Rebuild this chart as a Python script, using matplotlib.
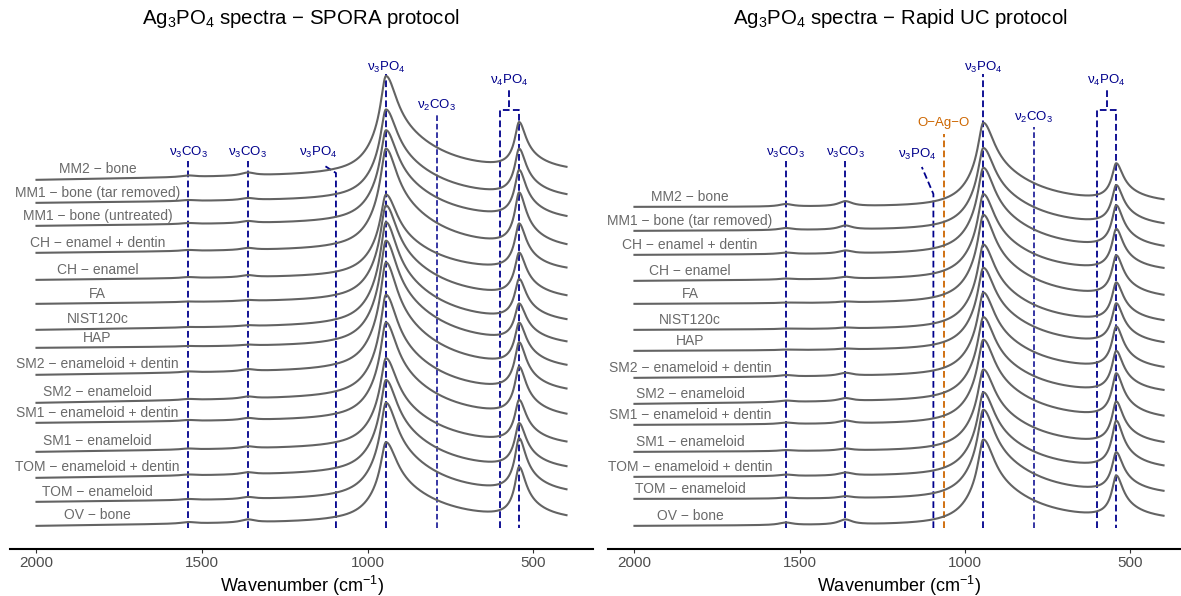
import numpy as np
import matplotlib
matplotlib.use("Agg")
import matplotlib.pyplot as plt

plt.rcParams['font.family'] = ['Liberation Sans', 'DejaVu Sans']
plt.rcParams['mathtext.fontset'] = 'custom'
plt.rcParams['mathtext.rm'] = 'Liberation Sans'
plt.rcParams['mathtext.it'] = 'Liberation Sans:italic'
plt.rcParams['mathtext.bf'] = 'Liberation Sans:bold'

# ---------------------------------------------------------------- data
# band positions (cm-1)
band_v3co3 = [1542, 1362]
band_v3po4_shoulder = 1096
band_v3po4 = 945
band_v2co3 = 792
band_v4po4 = [602, 543]
band_agO = 1065

# SPORA protocol spectra (top to bottom), normalised absorbance + offsets
spora_names = ["MM2 \u2212 bone", "MM1 \u2212 bone (tar removed)", "MM1 \u2212 bone (untreated)",
               "CH \u2212 enamel + dentin", "CH \u2212 enamel", "FA", "NIST120c", "HAP",
               "SM2 \u2212 enameloid + dentin", "SM2 \u2212 enameloid",
               "SM1 \u2212 enameloid + dentin", "SM1 \u2212 enameloid",
               "TOM \u2212 enameloid + dentin", "TOM \u2212 enameloid", "OV \u2212 bone"]
spora_base_2000 = [3.69, 3.46, 3.23, 2.96, 2.69, 2.45, 2.19, 2.01, 1.74, 1.46, 1.26, 0.97, 0.71, 0.47, 0.23]
spora_base_1100 = [3.74, 3.49, 3.26, 2.99, 2.72, 2.48, 2.23, 2.03, 1.78, 1.51, 1.29, 1.01, 0.75, 0.50, 0.27]
spora_base_400 = [3.74, 3.47, 3.25, 2.96, 2.74, 2.46, 2.22, 2.00, 1.76, 1.52, 1.27, 1.00, 0.75, 0.51, 0.26]
spora_v3 = [0.99, 0.91, 0.93, 1.02, 0.82, 0.96, 1.04, 1.06, 1.09, 1.03, 0.98, 0.90, 0.94, 0.96, 0.80]
spora_v4 = [0.53, 0.53, 0.54, 0.60, 0.52, 0.50, 0.48, 0.45, 0.50, 0.55, 0.55, 0.49, 0.51, 0.60, 0.56]
spora_co3 = [0.03, 0.02, 0.02, 0.02, 0.02, 0.01, 0.01, 0.01, 0.02, 0.02, 0.02, 0.02, 0.02, 0.02, 0.03]

# Rapid UC protocol spectra (top to bottom)
ruc_names = ["MM2 \u2212 bone", "MM1 \u2212 bone (tar removed)",
             "CH \u2212 enamel + dentin", "CH \u2212 enamel", "FA", "NIST120c", "HAP",
             "SM2 \u2212 enameloid + dentin", "SM2 \u2212 enameloid",
             "SM1 \u2212 enameloid + dentin", "SM1 \u2212 enameloid",
             "TOM \u2212 enameloid + dentin", "TOM \u2212 enameloid", "OV \u2212 bone"]
ruc_base_2000 = [3.42, 3.18, 2.94, 2.68, 2.45, 2.19, 1.98, 1.71, 1.45, 1.24, 0.97, 0.72, 0.50, 0.23]
ruc_base_1100 = [3.42, 3.19, 2.95, 2.70, 2.46, 2.20, 1.99, 1.73, 1.48, 1.25, 0.98, 0.73, 0.50, 0.24]
ruc_base_400 = [3.43, 3.19, 2.96, 2.74, 2.47, 2.22, 2.00, 1.75, 1.52, 1.26, 1.00, 0.76, 0.51, 0.26]
ruc_v3 = [0.84, 0.82, 0.86, 0.84, 0.88, 0.84, 0.82, 0.83, 0.83, 0.84, 0.81, 0.83, 0.89, 0.85]
ruc_v4 = [0.43, 0.45, 0.48, 0.47, 0.47, 0.45, 0.46, 0.48, 0.47, 0.50, 0.48, 0.53, 0.46, 0.48]
ruc_co3 = [0.05, 0.04, 0.03, 0.02, 0.01, 0.01, 0.01, 0.03, 0.03, 0.03, 0.02, 0.03, 0.02, 0.05]

# ---------------------------------------------------------------- spectra
wn = np.linspace(2000, 400, 1601)


def lorentz(w, c, g_hi, g_lo):
    g = np.where(w >= c, g_hi, g_lo)
    return 1.0 / (1.0 + ((w - c) / g) ** 2)


shape_v3 = 0.55 * lorentz(wn, band_v3po4, 18, 40) + 0.45 * lorentz(wn, band_v3po4, 58, 165)
shape_v4 = 0.7 * lorentz(wn, band_v4po4[1], 14, 24) + 0.3 * lorentz(wn, band_v4po4[1], 32, 80)
shape_co3 = 0.5 * lorentz(wn, band_v3co3[0], 25, 25) + lorentz(wn, band_v3co3[1], 25, 25)

i_v3 = np.argmin(np.abs(wn - band_v3po4))
i_v4 = np.argmin(np.abs(wn - band_v4po4[1]))


def spectrum(b2000, b1100, b400, h3, h4, hc):
    base = np.interp(wn, [400, 1100, 2000], [b400, b1100, b2000])
    m = np.array([[1.0, shape_v4[i_v3]], [shape_v3[i_v4], 1.0]])
    a, b = np.linalg.solve(m, [h3, h4])
    return base + a * shape_v3 + b * shape_v4 + hc * shape_co3


# ---------------------------------------------------------------- figure
W, H = 1181, 596
fig = plt.figure(figsize=(W / 100, H / 100), dpi=100)

navy = '#00008B'
orange = '#CD6600'
grey = '#636363'
dash = (0, (3.7, 1.85))
y_bottom = 0.21


def px_axes(x0, x1, ytop, ybot):
    return fig.add_axes([x0 / W, (H - ybot) / H, (x1 - x0) / W, (ybot - ytop) / H])


def vline(ax, x, ytop, color=navy, lw=1.3):
    ax.plot([x, x], [y_bottom, ytop], color=color, lw=lw, ls=dash, solid_capstyle='butt')


def band_label(ax, x, y, txt, color=navy):
    ax.text(x, y, txt, ha='center', va='center', color=color, fontsize=9.5)


def panel(ax, names, b2000, b1100, b400, h3, h4, hc, label_x, rapid):
    for i, name in enumerate(names):
        y = spectrum(b2000[i], b1100[i], b400[i], h3[i], h4[i], hc[i])
        ax.plot(wn, y, color=grey, lw=1.5, zorder=3)
        ly = np.interp(label_x, wn[::-1], y[::-1]) + 0.055
        ax.text(label_x, ly, name, ha='center', va='baseline', color='#6a6a6a', fontsize=10)

    nu3co3 = r'$\mathrm{\nu_3CO_3}$'
    nu3po4 = r'$\mathrm{\nu_3PO_4}$'
    for c in band_v3co3:
        vline(ax, c, 3.88)
        band_label(ax, c, 3.97, nu3co3)

    # shoulder of nu3 PO4 with a bent leader
    if rapid:
        lab_x, lab_y, knee = 1146, 3.95, 3.55
    else:
        lab_x, lab_y, knee = 1149, 3.97, 3.76
    band_label(ax, lab_x, lab_y, nu3po4)
    ax.plot([band_v3po4_shoulder, band_v3po4_shoulder, lab_x - 15],
            [y_bottom, knee, lab_y - 0.13], color=navy, lw=1.3, ls=dash)

    if rapid:
        vline(ax, band_agO, 4.15, color=orange)
        band_label(ax, band_agO, 4.26, 'O\u2212Ag\u2212O', color=orange)

    vline(ax, band_v3po4, 4.75)
    band_label(ax, band_v3po4, 4.82, nu3po4)

    v2y = 4.32 if rapid else 4.44
    vline(ax, band_v2co3, v2y - 0.1, lw=1.1)
    band_label(ax, band_v2co3, v2y, r'$\mathrm{\nu_2CO_3}$')

    # nu4 PO4 bracket
    ax.plot([band_v4po4[0], band_v4po4[0], band_v4po4[1], band_v4po4[1]],
            [y_bottom, 4.39, 4.39, y_bottom], color=navy, lw=1.3, ls=dash)
    mid = 0.5 * (band_v4po4[0] + band_v4po4[1])
    ax.plot([mid, mid], [4.42, 4.60], color=navy, lw=1.3, ls=dash)
    band_label(ax, mid, 4.69, r'$\mathrm{\nu_4PO_4}$')

    ax.set_xlim(2080, 320)
    ax.set_ylim(0, 5.11)
    ax.set_xticks([2000, 1500, 1000, 500])
    ax.set_yticks([])
    for s in ('left', 'right', 'top'):
        ax.spines[s].set_visible(False)
    ax.spines['bottom'].set_linewidth(1.5)
    ax.spines['bottom'].set_color('black')
    ax.tick_params(axis='x', length=3, width=0.8, color='#333333', pad=2,
                   labelsize=11, labelcolor='#4D4D4D')
    ax.set_xlabel(r'Wavenumber (cm$^{-1}$)', fontsize=13, labelpad=3)
    ax.patch.set_alpha(0)


ax1 = px_axes(10, 593, 38, 549)
panel(ax1, spora_names, spora_base_2000, spora_base_1100, spora_base_400,
      spora_v3, spora_v4, spora_co3, 1816, False)
fig.text(301 / W, 1 - 18 / H, 'Ag$_3$PO$_4$ spectra \u2212 SPORA protocol',
         ha='center', va='center', fontsize=14.7)

ax2 = px_axes(608, 1190, 38, 549)
panel(ax2, ruc_names, ruc_base_2000, ruc_base_1100, ruc_base_400,
      ruc_v3, ruc_v4, ruc_co3, 1832, True)
fig.text(900 / W, 1 - 18 / H, 'Ag$_3$PO$_4$ spectra \u2212 Rapid UC protocol',
         ha='center', va='center', fontsize=14.7)

fig.savefig('out.png', dpi=100, facecolor='white')
